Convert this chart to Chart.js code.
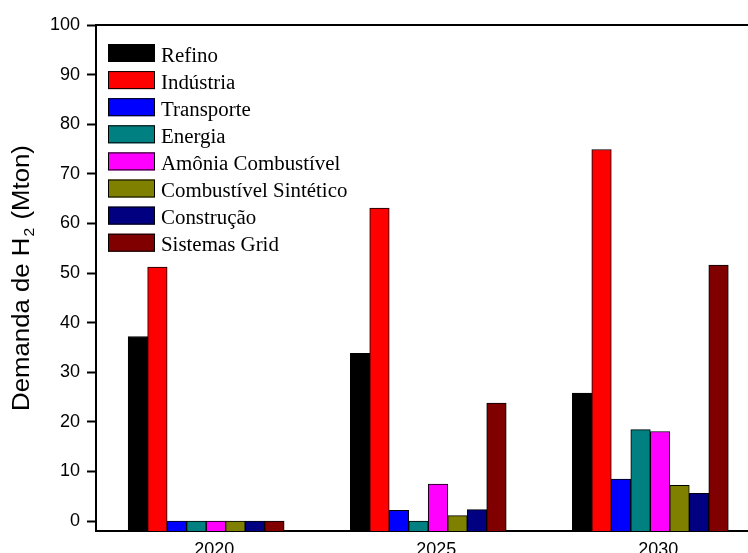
<!DOCTYPE html>
<html>
<head>
<meta charset="utf-8">
<script src="https://cdn.jsdelivr.net/npm/chart.js@4.4.0/dist/chart.umd.min.js"></script>
<style>
  html, body { margin: 0; padding: 0; background: #ffffff; }
  #wrap { width: 748px; height: 553px; }
</style>
</head>
<body>
<div id="wrap"><canvas id="c" width="748" height="553"></canvas></div>
<script>
// Hydrogen demand by sector (Mton)
const years = [2020, 2025, 2030];
const seriesNames = ['Refino', 'Indústria', 'Transporte', 'Energia', 'Amônia Combustível',
                     'Combustível Sintético', 'Construção', 'Sistemas Grid'];
const refino      = [37.2, 33.8, 25.8];
const industria   = [51.2, 63.1, 74.9];
const transporte  = [0, 2.15, 8.45];
const energia     = [0, 0, 18.45];
const amonia      = [0, 7.45, 18.05];
const sintetico   = [0, 1.1, 7.2];
const construcao  = [0, 2.3, 5.6];
const sistemasGrid = [0, 23.8, 51.6];
const seriesValues = [refino, industria, transporte, energia, amonia, sintetico, construcao, sistemasGrid];
const seriesColors = ['#000000', '#FF0000', '#0000FF', '#008080', '#FF00FF', '#808000', '#000080', '#800000'];
const yTickValues = [0, 10, 20, 30, 40, 50, 60, 70, 80, 90, 100];
const axisTitle = { before: 'Demanda de H', sub: '2', after: ' (Mton)' };

const SANS = "'Liberation Sans', Arial, sans-serif";
const SERIF = "'Liberation Serif', 'Times New Roman', serif";

const datasets = seriesNames.map((name, k) => ({
  label: name,
  data: years.map((yr, i) => ({ x: yr, y: seriesValues[k][i] })),
  backgroundColor: seriesColors[k],
  borderColor: '#000000',
  borderWidth: 1,
  borderSkipped: 'start',
  base: -2,
  barThickness: 19.5,
  grouped: true
}));

// Frame line along the top of the plot area
const topFrame = {
  id: 'topFrame',
  afterDraw(chart) {
    const { ctx, chartArea } = chart;
    ctx.save();
    ctx.strokeStyle = '#000';
    ctx.lineWidth = 2;
    ctx.beginPath();
    ctx.moveTo(chartArea.left - 1, chartArea.top);
    ctx.lineTo(chart.width, chartArea.top);
    ctx.stroke();
    ctx.restore();
  }
};

// Vertical axis title with a subscript
const yTitle = {
  id: 'yTitle',
  afterDraw(chart) {
    const { ctx, chartArea } = chart;
    const size = 23, subSize = 14, stretch = 1.12;
    ctx.save();
    ctx.fillStyle = '#000';
    ctx.textBaseline = 'alphabetic';
    ctx.font = size + 'px ' + SANS;
    const w1 = ctx.measureText(axisTitle.before).width;
    const w3 = ctx.measureText(axisTitle.after).width;
    ctx.font = subSize + 'px ' + SANS;
    const w2 = ctx.measureText(axisTitle.sub).width + 2;
    const total = w1 + w2 + w3;
    const cy = (chartArea.top + chartArea.bottom) / 2;
    ctx.translate(29, cy);
    ctx.rotate(-Math.PI / 2);
    ctx.scale(stretch, 1);
    let x = -total / 2;
    ctx.font = size + 'px ' + SANS;
    ctx.fillText(axisTitle.before, x, 0);
    x += w1 + 1;
    ctx.font = subSize + 'px ' + SANS;
    ctx.fillText(axisTitle.sub, x, 5);
    x += w2 - 1;
    ctx.font = size + 'px ' + SANS;
    ctx.fillText(axisTitle.after, x, 0);
    ctx.restore();
  }
};

// Legend box inside the plot area
const innerLegend = {
  id: 'innerLegend',
  afterDraw(chart) {
    const { ctx, chartArea } = chart;
    const left = chartArea.left + 12;
    const top = chartArea.top + 19;
    const rowH = 27.1, boxW = 47, boxH = 18, textStretch = 1.045;
    ctx.save();
    ctx.font = '20px ' + SERIF;
    ctx.textBaseline = 'alphabetic';
    chart.data.datasets.forEach((ds, i) => {
      const y = top + i * rowH;
      ctx.fillStyle = ds.backgroundColor;
      ctx.fillRect(left, y, boxW, boxH);
      ctx.strokeStyle = '#000';
      ctx.lineWidth = 1;
      ctx.strokeRect(left + 0.5, y + 0.5, boxW - 1, boxH - 1);
      ctx.fillStyle = '#000';
      ctx.save();
      ctx.translate(left + boxW + 6, y + 17.5);
      ctx.scale(textStretch, 1);
      ctx.fillText(ds.label, 0, 0);
      ctx.restore();
    });
    ctx.restore();
  }
};

new Chart(document.getElementById('c'), {
  type: 'bar',
  data: { datasets },
  plugins: [topFrame, yTitle, innerLegend],
  options: {
    responsive: false,
    animation: false,
    devicePixelRatio: 1,
    layout: { padding: { left: 0, top: 25, right: 0, bottom: 0 } },
    plugins: { legend: { display: false }, tooltip: { enabled: false }, title: { display: false } },
    scales: {
      x: {
        type: 'linear',
        offset: false,
        bounds: 'ticks',
        min: 2017.52,
        max: 2032.2,
        afterBuildTicks: s => { s.ticks = years.map(v => ({ value: v })); },
        afterFit: s => { s.height = 22; },
        grid: { display: false, offset: false },
        border: { display: true, color: '#000', width: 2 },
        ticks: {
          color: '#000',
          font: { family: SANS, size: 18 },
          padding: 0,
          labelOffset: 8,
          maxRotation: 0,
          autoSkip: false,
          callback: v => String(v)
        }
      },
      y: {
        min: -2,
        max: 100,
        afterBuildTicks: s => { s.ticks = yTickValues.map(v => ({ value: v })); },
        afterFit: s => { s.width = 96; },
        grid: {
          display: true,
          drawOnChartArea: false,
          drawTicks: true,
          tickLength: 9,
          tickWidth: 2,
          tickColor: '#000'
        },
        border: { display: true, color: '#000', width: 2 },
        ticks: {
          color: '#000',
          font: { family: SANS, size: 18 },
          padding: 7,
          autoSkip: false,
          callback: v => String(v)
        }
      }
    }
  }
});
</script>
</body>
</html>
